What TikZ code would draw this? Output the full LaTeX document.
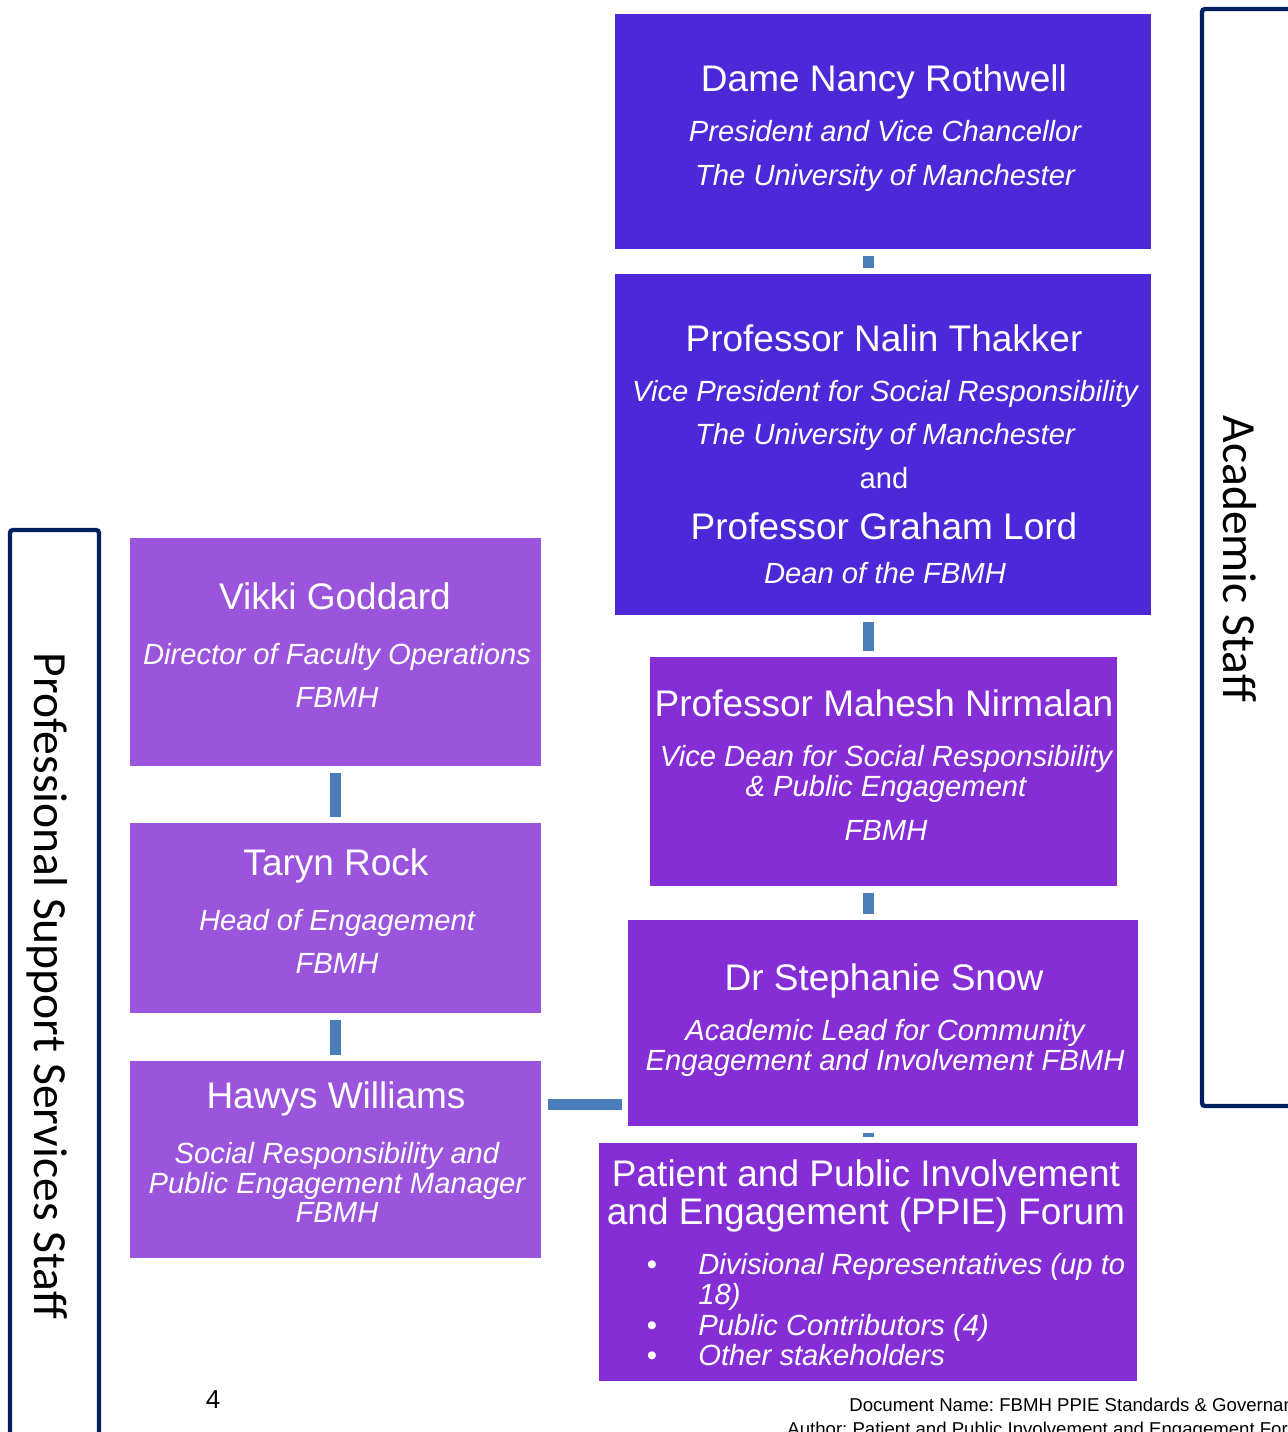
\documentclass[tikz,border=0pt]{standalone}
\usepackage{fontspec}
\setmainfont{Liberation Sans}
\newfontfamily\sidefont{Carlito}
\frenchspacing
\definecolor{deanblue}{RGB}{76,40,217}
\definecolor{profpurple}{RGB}{155,85,221}
\definecolor{acadpurple}{RGB}{134,46,214}
\definecolor{linkblue}{RGB}{74,126,187}
\definecolor{framenavy}{RGB}{0,32,96}
\tikzset{box style/.style={draw=none, inner sep=0pt, anchor=north west}}
\tikzset{name line/.style={anchor=base, text=white, font=\fontsize{18.5pt}{22pt}\selectfont}}
\tikzset{role line/.style={anchor=base, text=white, font=\fontsize{14.6pt}{17pt}\selectfont\itshape}}
\tikzset{bullet line/.style={role line, anchor=base west, inner sep=0pt}}
\tikzset{footer line/.style={anchor=base west, inner sep=0pt, font=\fontsize{9.3pt}{11pt}\selectfont}}
\tikzset{link/.style={draw=linkblue, line width=5.5pt, shorten >=3.25pt, shorten <=3.25pt}}
\tikzset{frame/.style={draw=framenavy, line width=2.2pt, rounded corners=1.5pt}}
\tikzset{side label/.style={rotate=-90, font=\sidefont\fontsize{23.8pt}{28pt}\selectfont}}

\begin{document}
\begin{tikzpicture}[x=0.5pt, y=-0.5pt]
    \useasboundingbox (0,0) rectangle (1288,1432);
    \draw[frame] (1202,9) rectangle (1300,1106);
    \draw[frame] (10,530) rectangle (99,1460);
    \path (1240,559) node[side label] (academic) {Academic Staff};
    \path (47,986) node[side label] (professional) {Professional Support Services Staff};

    \node[box style, fill=deanblue, minimum width=268pt, minimum height=117.5pt] (nancy) at (615,14) {};
    \node[box style, fill=deanblue, minimum width=268pt, minimum height=170.5pt] (thakker) at (615,274) {};
    \node[box style, fill=acadpurple, minimum width=233.5pt, minimum height=114.5pt] (nirmalan) at (650,657) {};
    \node[box style, fill=acadpurple, minimum width=255pt, minimum height=103pt] (snow) at (628,920) {};
    \node[box style, fill=acadpurple, minimum width=269pt, minimum height=119pt] (ppie) at (599,1143) {};
    \node[box style, fill=profpurple, minimum width=205.5pt, minimum height=114pt] (goddard) at (130,538) {};
    \node[box style, fill=profpurple, minimum width=205.5pt, minimum height=95pt] (rock) at (130,823) {};
    \node[box style, fill=profpurple, minimum width=205.5pt, minimum height=98.5pt] (williams) at (130,1061) {};

    \draw[link] (nancy.south -| ppie.north) -- (thakker.north -| ppie.north);
    \draw[link] (thakker.south -| ppie.north) -- (nirmalan.north -| ppie.north);
    \draw[link] (nirmalan.south -| ppie.north) -- (snow.north -| ppie.north);
    \draw[link] (snow.south -| ppie.north) -- (ppie.north);
    \draw[link] (goddard.south) -- (rock.north);
    \draw[link] (rock.south) -- (williams.north);
    \draw[link] ([yshift=27.5pt]williams.east) -- ([yshift=27.5pt]williams.east -| snow.west);

    \path (884,91) node[name line] (nancy-1) {Dame Nancy Rothwell};
    \path (885,141) node[role line] (nancy-2) {President and Vice Chancellor};
    \path (885,185) node[role line] (nancy-3) {The University of Manchester};

    \path (884,351) node[name line] (thakker-1) {Professor Nalin Thakker};
    \path (885,401) node[role line] (thakker-2) {Vice President for Social Responsibility};
    \path (885,444) node[role line] (thakker-3) {The University of Manchester};
    \path (884,488) node[role line, font=\fontsize{14.6pt}{17pt}\selectfont] (thakker-4) {and};
    \path (884,539) node[name line] (lord-1) {Professor Graham Lord};
    \path (885,583) node[role line] (lord-2) {Dean of the FBMH};

    \path (884,716) node[name line] (nirmalan-1) {Professor Mahesh Nirmalan};
    \path (886,766) node[role line] (nirmalan-2) {Vice Dean for Social Responsibility};
    \path (886,796) node[role line] (nirmalan-3) {\& Public Engagement};
    \path (886,840) node[role line] (nirmalan-4) {FBMH};

    \path (884,990) node[name line] (snow-1) {Dr Stephanie Snow};
    \path (885,1040) node[role line] (snow-2) {Academic Lead for Community};
    \path (885,1070) node[role line] (snow-3) {Engagement and Involvement FBMH};

    \path (866,1186) node[name line] (ppie-1) {Patient and Public Involvement};
    \path (866,1224) node[name line] (ppie-2) {and Engagement (PPIE) Forum};
    \path (652,1274) node[role line, font=\fontsize{14.6pt}{17pt}\selectfont] (dot-1) {•};
    \path (698,1274) node[bullet line] (ppie-3) {Divisional Representatives (up to};
    \path (698,1304) node[bullet line] (ppie-4) {18)};
    \path (652,1335) node[role line, font=\fontsize{14.6pt}{17pt}\selectfont] (dot-2) {•};
    \path (698,1335) node[bullet line] (ppie-5) {Public Contributors (4)};
    \path (652,1365) node[role line, font=\fontsize{14.6pt}{17pt}\selectfont] (dot-3) {•};
    \path (698,1365) node[bullet line] (ppie-6) {Other stakeholders};

    \path (335,609) node[name line] (goddard-1) {Vikki Goddard};
    \path (337,664) node[role line] (goddard-2) {Director of Faculty Operations};
    \path (337,707) node[role line] (goddard-3) {FBMH};

    \path (336,875) node[name line] (rock-1) {Taryn Rock};
    \path (337,930) node[role line] (rock-2) {Head of Engagement};
    \path (337,973) node[role line] (rock-3) {FBMH};

    \path (336,1108) node[name line] (williams-1) {Hawys Williams};
    \path (337,1163) node[role line] (williams-2) {Social Responsibility and};
    \path (337,1193) node[role line] (williams-3) {Public Engagement Manager};
    \path (337,1222) node[role line] (williams-4) {FBMH};

    \path (213,1400) node[font=\fontsize{13pt}{15pt}\selectfont] (page) {4};
    \path (849,1411) node[footer line] (docname) {Document Name: FBMH PPIE Standards \& Governance};
    \path (787,1435) node[footer line] (author) {Author: Patient and Public Involvement and Engagement Forum};
\end{tikzpicture}
\end{document}
